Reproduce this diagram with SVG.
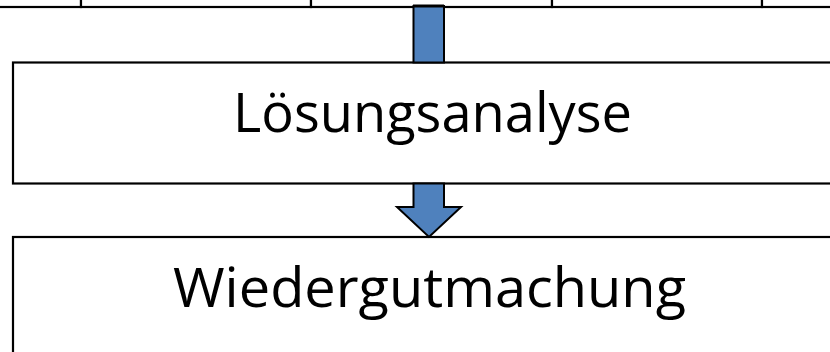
<svg xmlns="http://www.w3.org/2000/svg" width="830" height="352" viewBox="0 0 830 352">
<style>
.box{fill:#ffffff;stroke:#000000;stroke-width:2.2}
.arrow{fill:#4f81bd;stroke:#000000;stroke-width:2}
.lbl{font-family:"Open Sans","Liberation Sans",sans-serif;font-size:55px;fill:#000000}
</style>
<rect width="830" height="352" fill="#ffffff"/>
<g id="top-row">
<rect class="box" x="-10" y="-40" width="91" height="47"/>
<rect class="box" x="81" y="-40" width="230" height="47"/>
<rect class="box" x="311" y="-40" width="241" height="47"/>
<rect class="box" x="552" y="-40" width="210" height="47"/>
<rect class="box" x="762" y="-40" width="100" height="47"/>
</g>
<g id="node-loesungsanalyse">
<rect class="box" x="13" y="62.5" width="840" height="121"/>
<text class="lbl" x="233" y="131.5" textLength="399" lengthAdjust="spacingAndGlyphs">Lösungsanalyse</text>
</g>
<g id="node-wiedergutmachung">
<rect class="box" x="13" y="237" width="840" height="140"/>
<text class="lbl" x="173" y="306.5" textLength="513" lengthAdjust="spacingAndGlyphs">Wiedergutmachung</text>
</g>
<g id="connectors">
<rect class="arrow" x="413.5" y="6" width="30.5" height="56.5"/>
<line x1="413" y1="6" x2="444" y2="6" stroke="#000" stroke-width="3"/>
<polygon class="arrow" points="413.5,183.5 444,183.5 444,207 461,207 429,237 397,207 413.5,207"/>
</g>
</svg>
